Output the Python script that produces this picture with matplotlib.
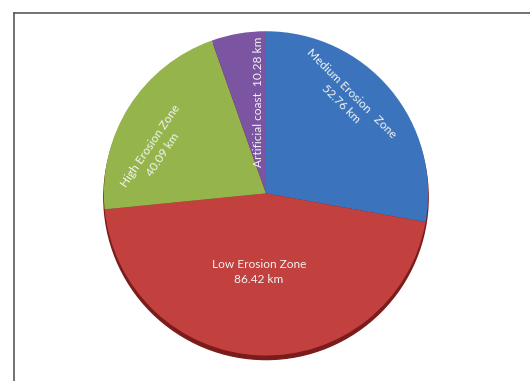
import matplotlib.pyplot as plt
from matplotlib.lines import Line2D
from matplotlib.patches import Ellipse

zones = ["Medium Erosion   Zone", "Low Erosion Zone", "High Erosion Zone", "Artificial coast"]
lengths_km = [52.76, 86.42, 40.09, 10.28]
colors = ["#3B74BC", "#C2403D", "#95B54C", "#7B54A2"]

W, H = 530, 381
fig = plt.figure(figsize=(W / 100, H / 100), dpi=100)
fig.patch.set_facecolor("white")

# pie axes: centre ~ (266, 194) px, radius ~ 167 px
r = 167
cx, cy = 266, 195
ax = fig.add_axes([(cx - r) / W, 1 - (cy + r) / H, 2 * r / W, 2 * r / H])

# soft shadow under the pie for the bevelled look
ax.add_patch(Ellipse((0.0, -0.025), 2.0, 2.0, color="#7a1c1c", zorder=0))

ax.pie(lengths_km, colors=colors, startangle=90, counterclock=False,
       radius=1.0, center=(0, 0), frame=True, wedgeprops=dict(linewidth=0))
ax.set_xlim(-1.02, 1.02)
ax.set_ylim(-1.04, 1.02)
ax.set_aspect("equal")
ax.axis("off")

txt = dict(color="#f4f4f4", fontsize=8.6, family="Lato", ha="center", va="center",
           rotation_mode="anchor", linespacing=1.45)

def place(px, py, s, rot):
    fig.text(px / W, 1 - py / H, s, rotation=rot, **txt)

place(346, 99, f"{zones[0]}\n{lengths_km[0]:.2f} km", -45)
place(259, 272, f"{zones[1]}\n{lengths_km[1]:.2f} km", 0)
place(157, 150, f"{zones[2]}\n{lengths_km[2]:.2f} km", 56)
place(258, 102, f"{zones[3]}  {lengths_km[3]:.2f} km", 90)

# frame lines (left and top only)
lc = "#5a5a5a"
fig.add_artist(Line2D([13.5 / W, 13.5 / W], [0, 1 - 12.5 / H], color=lc, lw=1.2))
fig.add_artist(Line2D([13.5 / W, 1], [1 - 12.5 / H, 1 - 12.5 / H], color=lc, lw=1.2))

fig.savefig("out.png", dpi=100)
